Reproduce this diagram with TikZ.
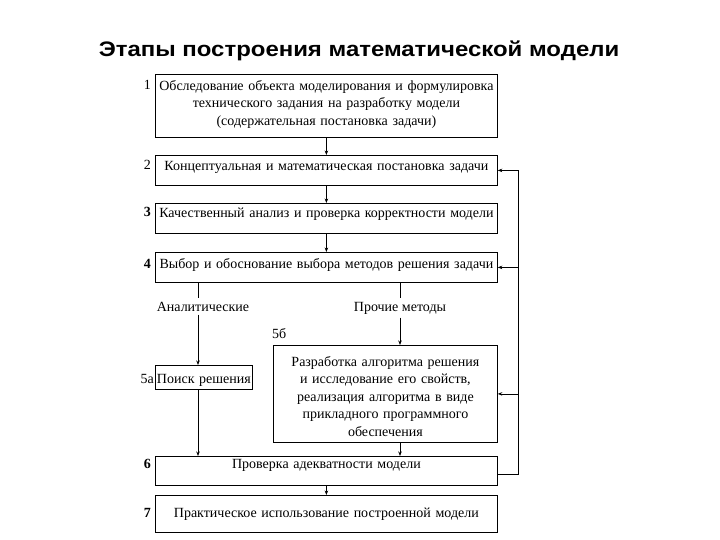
\documentclass[tikz,border=0pt]{standalone}
\usepackage{fontspec}
\setmainfont{Liberation Serif}
\newfontfamily\titlefont[FakeStretch=1.14]{Liberation Sans}
\usetikzlibrary{arrows.meta,positioning,calc}

\begin{document}
\begin{tikzpicture}[x=1pt,y=-1pt,every node/.style={font=\fontsize{14}{17.5}\selectfont},
  stage/.style={draw,line width=0.8pt,anchor=north west,inner xsep=0pt,inner ysep=0pt,text width=342pt,align=center},
  num/.style={anchor=base east,inner sep=0pt},
  link/.style={-{Stealth[length=4.5pt,width=3.5pt]},line width=0.7pt}]
  \useasboundingbox (0,0) rectangle (720,540);
  % Title
  \node[font=\titlefont\bfseries\fontsize{21}{25}\selectfont,anchor=base] (title) at (359,57) {Этапы построения математической модели};
  % Stages of the model
  \node[stage,text height=16pt,text depth=47pt] (s1) at (155,74) {Обследование объекта моделирования и формулировка\\технического задания на разработку модели\\(содержательная постановка задачи)};
  \node[stage,text height=15pt,text depth=15pt] (s2) at (155,155) {Концептуальная и математическая постановка задачи};
  \node[stage,text height=14pt,text depth=16pt] (s3) at (155,203) {Качественный анализ и проверка корректности модели};
  \node[stage,text height=16pt,text depth=14pt] (s4) at (155,252) {Выбор и обоснование выбора методов решения задачи};
  \node[stage,text width=97pt,text height=18pt,text depth=6pt] (s5a) at (155,365) {Поиск решения};
  \node[stage,text width=224pt,text height=21pt,text depth=76pt] (s5b) at (273,345) {Разработка алгоритма решения\\и исследование его свойств,\\реализация алгоритма в виде\\прикладного программного\\обеспечения};
  \node[stage,text height=12pt,text depth=17pt] (s6) at (155,456) {Проверка адекватности модели};
  \node[stage,text height=22pt,text depth=15pt] (s7) at (155,495) {Практическое использование построенной модели};
  % Numbers
  \node[num] (n1) at (151,90) {1};
  \node[num] (n2) at (151,170) {2};
  \node[num] (n3) at (151,217) {\bfseries 3};
  \node[num] (n4) at (151,268) {\bfseries 4};
  \node[num] (n5a) at (154,383) {5а};
  \node[num,anchor=base west] (n5b) at (272,338) {5б};
  \node[num] (n6) at (151,468) {\bfseries 6};
  \node[num] (n7) at (151,517) {\bfseries 7};
  % Branches
  \node[anchor=base] (lan) at (203,311) {Аналитические};
  \node[anchor=base] (lpr) at (400,311) {Прочие методы};
  \coordinate (ka) at (198,0);
  \coordinate (kb) at (400,0);
  \coordinate (fb) at (518,0);
  % Connectors
  \draw[link] (s1.south) -- (s2.north);
  \draw[link] (s2.south) -- (s3.north);
  \draw[link] (s3.south) -- (s4.north);
  \draw[line width=0.7pt] (s4.south -| ka) -- (lan.north -| ka);
  \draw[line width=0.7pt] (s4.south -| kb) -- (lpr.north -| kb);
  \draw[link] (lan.south -| ka) -- (s5a.north -| ka);
  \draw[link] (lpr.south -| kb) -- (s5b.north -| kb);
  \draw[link] (s5a.south -| ka) -- (s6.north -| ka);
  \draw[link] (s5b.south -| kb) -- (s6.north -| kb);
  \draw[link] (s6.south) -- (s7.north);
  % Feedback
  \draw[link] ([yshift=-3.5pt]s6.east) -| (fb |- s2.east) -- (s2.east);
  \draw[link] (fb |- s4.east) -- (s4.east);
  \draw[link] (fb |- s5b.east) -- (s5b.east);
\end{tikzpicture}
\end{document}
